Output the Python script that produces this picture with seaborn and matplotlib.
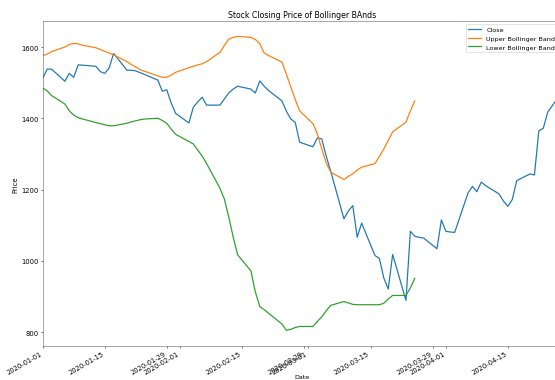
import matplotlib
matplotlib.use("Agg")
import matplotlib.pyplot as plt
import matplotlib.dates as mdates
import pandas as pd
import seaborn as sns

# Trading days covered by the closing prices
trade_start = "2020-01-01"
trade_end = "2020-04-27"

close_jan = [1512, 1538, 1538, 1504, 1526, 1515, 1550, 1549, 1546, 1531, 1526, 1541,
             1582, 1535, 1535, 1533, 1528, 1523, 1507, 1476, 1480, 1443, 1414]
close_feb = [1387, 1431, 1446, 1459, 1437, 1437, 1454, 1471, 1482, 1490, 1482, 1471,
             1505, 1490, 1478, 1449, 1420, 1398, 1389, 1333]
close_mar = [1320, 1345, 1342, 1294, 1252, 1118, 1140, 1155, 1066, 1106, 1015, 1007,
             952, 921, 1018, 889, 1083, 1069, 1066, 1064, 1034, 1115]
close_apr = [1083, 1081, 1080, 1190, 1209, 1194, 1221, 1211, 1188, 1168, 1153, 1172,
             1225, 1244, 1241, 1365, 1372, 1417, 1470]

# Bollinger bands (available through 2020-03-25)
upper_band = [1576, 1580, 1587, 1600, 1607, 1610, 1609, 1605, 1598, 1593, 1588, 1583,
              1578, 1559, 1551, 1544, 1536, 1532, 1519, 1515, 1515, 1521, 1529,
              1542, 1546, 1550, 1553, 1559, 1585, 1604, 1622, 1627, 1630, 1627, 1621,
              1610, 1583, 1576, 1558, 1524, 1488, 1453, 1421,
              1385, 1356, 1314, 1275, 1249, 1228, 1237, 1244, 1255, 1263, 1273, 1293,
              1314, 1338, 1362, 1389, 1421, 1449]
lower_band = [1485, 1477, 1464, 1440, 1421, 1409, 1402, 1398, 1388, 1385, 1382, 1379,
              1379, 1386, 1390, 1393, 1396, 1398, 1400, 1394, 1386, 1370, 1355,
              1335, 1328, 1311, 1294, 1273, 1204, 1174, 1123, 1067, 1017, 972, 913,
              872, 863, 853, 823, 805, 808, 813, 816,
              816, 830, 843, 860, 875, 886, 882, 878, 877, 877, 877, 877, 881, 893,
              903, 903, 924, 951]

series_names = ["Close", "Upper Bollinger Band", "Lower Bollinger Band"]
series_colors = ["#1f77b4", "#ff7f0e", "#2ca02c"]
tick_days_of_month = [1, 15, 29]

dates = pd.bdate_range(trade_start, trade_end)
close = close_jan + close_feb + close_mar + close_apr
df = pd.DataFrame({"Date": dates, "Close": close})
df.loc[: len(upper_band) - 1, "Upper"] = upper_band
df.loc[: len(lower_band) - 1, "Lower"] = lower_band

DPI = 46.25
fig = plt.figure(figsize=(555 / DPI, 381 / DPI), dpi=DPI)
ax = fig.add_axes([42.7 / 555, 34.3 / 381, (561 - 42.7) / 555, (346.7 - 22) / 381])

for col, name, color in zip(["Close", "Upper", "Lower"], series_names, series_colors):
    sns.lineplot(data=df, x="Date", y=col, ax=ax, label=name, color=color, linewidth=1.9)

ax.set_xlim(dates[0], dates[-1])
ax.set_ylim(762, 1673)
ax.set_yticks([800, 1000, 1200, 1400, 1600])
ax.xaxis.set_major_locator(mdates.DayLocator(bymonthday=tick_days_of_month))
ax.xaxis.set_major_formatter(mdates.DateFormatter("%Y-%m-%d"))
ax.tick_params(labelsize=10.5)
ax.set_title("Stock Closing Price of Bollinger BAnds", fontsize=12)
ax.set_xlabel("Date", fontsize=10, labelpad=-1)
ax.set_ylabel("Price", fontsize=10.5)
ax.legend(loc="upper right", fontsize=10)
for spine in ax.spines.values():
    spine.set_edgecolor("#555555")
fig.autofmt_xdate(rotation=30, ha="right")

fig.savefig("out.png", dpi=DPI)
